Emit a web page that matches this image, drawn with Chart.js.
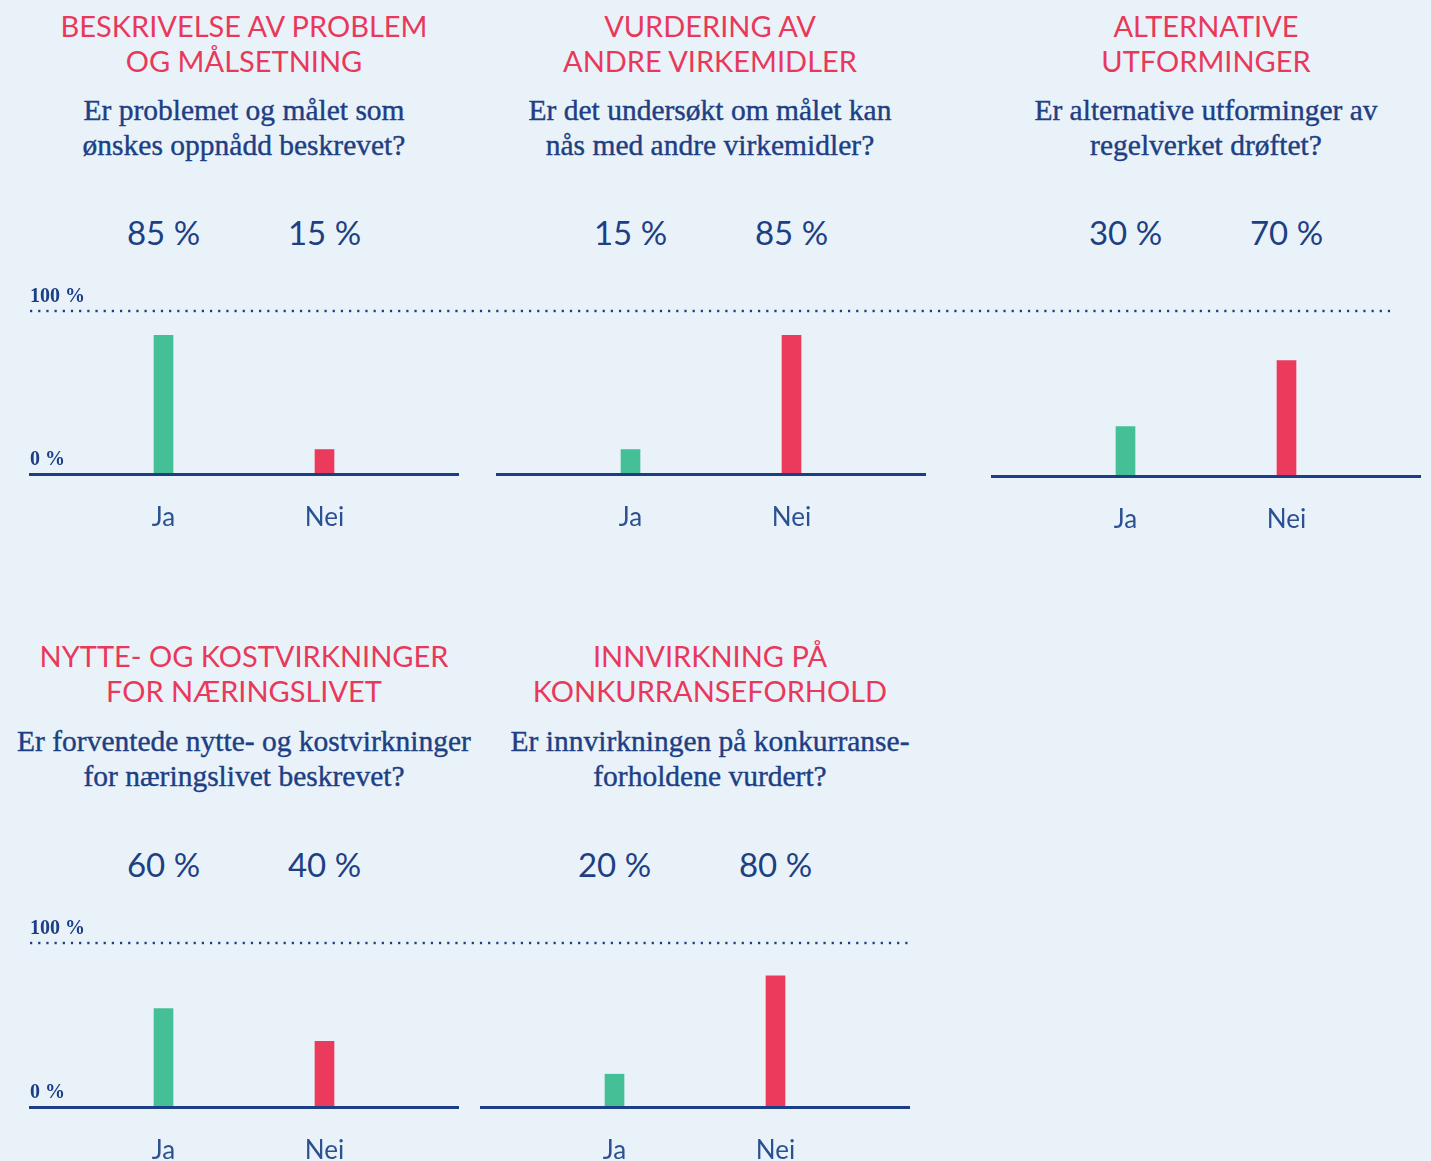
<!DOCTYPE html>
<html><head><meta charset="utf-8">
<script src="https://cdn.jsdelivr.net/npm/chart.js@4"></script>
<style>
html,body{margin:0;padding:0;background:#eaf2f9;width:1431px;height:1161px;overflow:hidden;position:relative}
.t{position:absolute;white-space:nowrap;text-align:center;transform:translateX(-50%)}
.title{font-family:Lato,"Open Sans",sans-serif;font-size:29px;line-height:35px;color:#e8395b}
.q{font-family:"Liberation Serif",serif;font-size:29.5px;line-height:35px;color:#1d3f84;-webkit-text-stroke:0.4px #1d3f84}
.pct{font-family:Lato,sans-serif;font-size:33px;line-height:40px;color:#1d3f84}
canvas{position:absolute}
</style></head><body>
<script>
// ---- data ----
const categories = ['Ja', 'Nei'];
const titles = [
  ['BESKRIVELSE AV PROBLEM', 'OG MÅLSETNING'],
  ['VURDERING AV', 'ANDRE VIRKEMIDLER'],
  ['ALTERNATIVE', 'UTFORMINGER'],
  ['NYTTE- OG KOSTVIRKNINGER', 'FOR NÆRINGSLIVET'],
  ['INNVIRKNING PÅ', 'KONKURRANSEFORHOLD']
];
const questions = [
  ['Er problemet og målet som', 'ønskes oppnådd beskrevet?'],
  ['Er det undersøkt om målet kan', 'nås med andre virkemidler?'],
  ['Er alternative utforminger av', 'regelverket drøftet?'],
  ['Er forventede nytte- og kostvirkninger', 'for næringslivet beskrevet?'],
  ['Er innvirkningen på konkurranse-', 'forholdene vurdert?']
];
const jaValues = [85, 15, 30, 60, 20];
const neiValues = [15, 85, 70, 40, 80];
const yTicks = [0, 100];
const yTickLabels = ['0 %', '100 %'];

// ---- layout / style ----
const NAVY = '#1b3e86';
const GREEN = '#45bf96';
const RED = '#eb3a5c';
const rows = [
  {top100: 311, base: 474, dotFrom: 30, dotTo: 1390, titleTop: 8.2, qTop: 92.5, pctTop: 212.2},
  {top100: 943, base: 1107, dotFrom: 30, dotTo: 910, titleTop: 638.2, qTop: 723.5, pctTop: 844.2}
];
const panels = [
  {row: 0, canvasLeft: 0, canvasWidth: 478, areaLeft: 30, titleX: 244, yLabels: true},
  {row: 0, canvasLeft: 478, canvasWidth: 477, areaLeft: 497, titleX: 710, yLabels: false},
  {row: 0, canvasLeft: 955, canvasWidth: 476, areaLeft: 992, titleX: 1206, yLabels: false, baseShift: 2},
  {row: 1, canvasLeft: 0, canvasWidth: 470, areaLeft: 30, titleX: 244, yLabels: true},
  {row: 1, canvasLeft: 470, canvasWidth: 461, areaLeft: 481, titleX: 710, yLabels: false}
];
const AREA_W = 428, BAR_GAP = 161, BAR_IN = 133.5;
const X_MIN = -BAR_IN / BAR_GAP, X_MAX = 1 + (AREA_W - BAR_IN - BAR_GAP) / BAR_GAP;
const PAD_TOP = 40, XLAB_SIZE = 26, XLAB_PAD = 28;

const dotsPlugin = {
  id: 'dots',
  afterDatasetsDraw(chart, args, opts) {
    const ctx = chart.ctx;
    const y = chart.scales.y.getPixelForValue(100);
    ctx.save();
    ctx.fillStyle = opts.color;
    for (let g = opts.from; g <= opts.to; g += opts.step) {
      const x = g - opts.offset;
      if (x >= -3 && x <= chart.width) ctx.fillRect(x, y - 1.2, 2.2, 2.4);
    }
    ctx.restore();
  }
};

function addText(cls, lines, x, top) {
  const d = document.createElement('div');
  d.className = 't ' + cls;
  d.style.left = x + 'px';
  d.style.top = top + 'px';
  d.innerHTML = lines.map(s => s.replace(/&/g, '&amp;')).join('<br>');
  document.body.appendChild(d);
  return d;
}

panels.forEach((p, i) => {
  const r = rows[p.row];
  const base = r.base + (p.baseShift || 0);
  const areaH = base - r.top100;
  const H = PAD_TOP + areaH + 130;
  const canvas = document.createElement('canvas');
  canvas.width = p.canvasWidth;
  canvas.height = H;
  canvas.style.left = p.canvasLeft + 'px';
  canvas.style.top = (r.top100 - PAD_TOP) + 'px';
  canvas.style.width = p.canvasWidth + 'px';
  canvas.style.height = H + 'px';
  document.body.appendChild(canvas);

  const padL = p.areaLeft - p.canvasLeft;
  const padR = p.canvasWidth - padL - AREA_W;

  const chart = new Chart(canvas, {
    type: 'bar',
    data: {
      datasets: [{
        data: categories.map((c, k) => ({x: k, y: k === 0 ? jaValues[i] : neiValues[i]})),
        backgroundColor: [GREEN, RED],
        borderWidth: 0,
        barThickness: 19
      }]
    },
    options: {
      responsive: false,
      animation: false,
      events: [],
      layout: {padding: {left: padL, right: padR, top: PAD_TOP, bottom: 0}},
      plugins: {
        legend: {display: false},
        tooltip: {enabled: false},
        dots: {color: NAVY, from: r.dotFrom, to: r.dotTo, step: 8.18, offset: p.canvasLeft}
      },
      scales: {
        x: {
          type: 'linear',
          min: X_MIN, max: X_MAX, offset: false,
          grid: {display: false, drawTicks: false, tickLength: 0},
          border: {display: true, color: NAVY, width: 3, z: 1},
          afterBuildTicks: s => { s.ticks = categories.map((c, k) => ({value: k})); },
          ticks: {
            padding: XLAB_PAD, maxRotation: 0, autoSkip: false,
            color: '#2b5192',
            font: {family: 'Lato', size: XLAB_SIZE},
            callback: v => categories[v]
          }
        },
        y: {
          type: 'linear',
          min: 0, max: 100,
          display: p.yLabels,
          grid: {display: false, drawTicks: false, tickLength: 0},
          border: {display: false},
          afterBuildTicks: s => { s.ticks = yTicks.map(v => ({value: v})); },
          ticks: {
            mirror: true, padding: 0, labelOffset: -14,
            color: NAVY,
            font: {family: 'Liberation Serif', size: 20, weight: 'bold'},
            callback: v => yTickLabels[yTicks.indexOf(v)]
          }
        }
      }
    },
    plugins: [dotsPlugin]
  });

  // make the plot area end exactly on the wanted baseline
  const wantBottom = PAD_TOP + areaH;
  const extra = chart.chartArea.bottom - wantBottom;
  if (Math.abs(extra) > 0.01) {
    chart.options.layout.padding.bottom = Math.max(0, extra);
    chart.update();
  }

  addText('title', titles[i], p.titleX, r.titleTop);
  addText('q', questions[i], p.titleX, r.qTop);
  const vals = [jaValues[i], neiValues[i]];
  vals.forEach((v, k) => {
    const x = p.canvasLeft + chart.scales.x.getPixelForValue(k);
    addText('pct', [v + ' %'], x, r.pctTop);
  });
});
</script>
</body></html>
